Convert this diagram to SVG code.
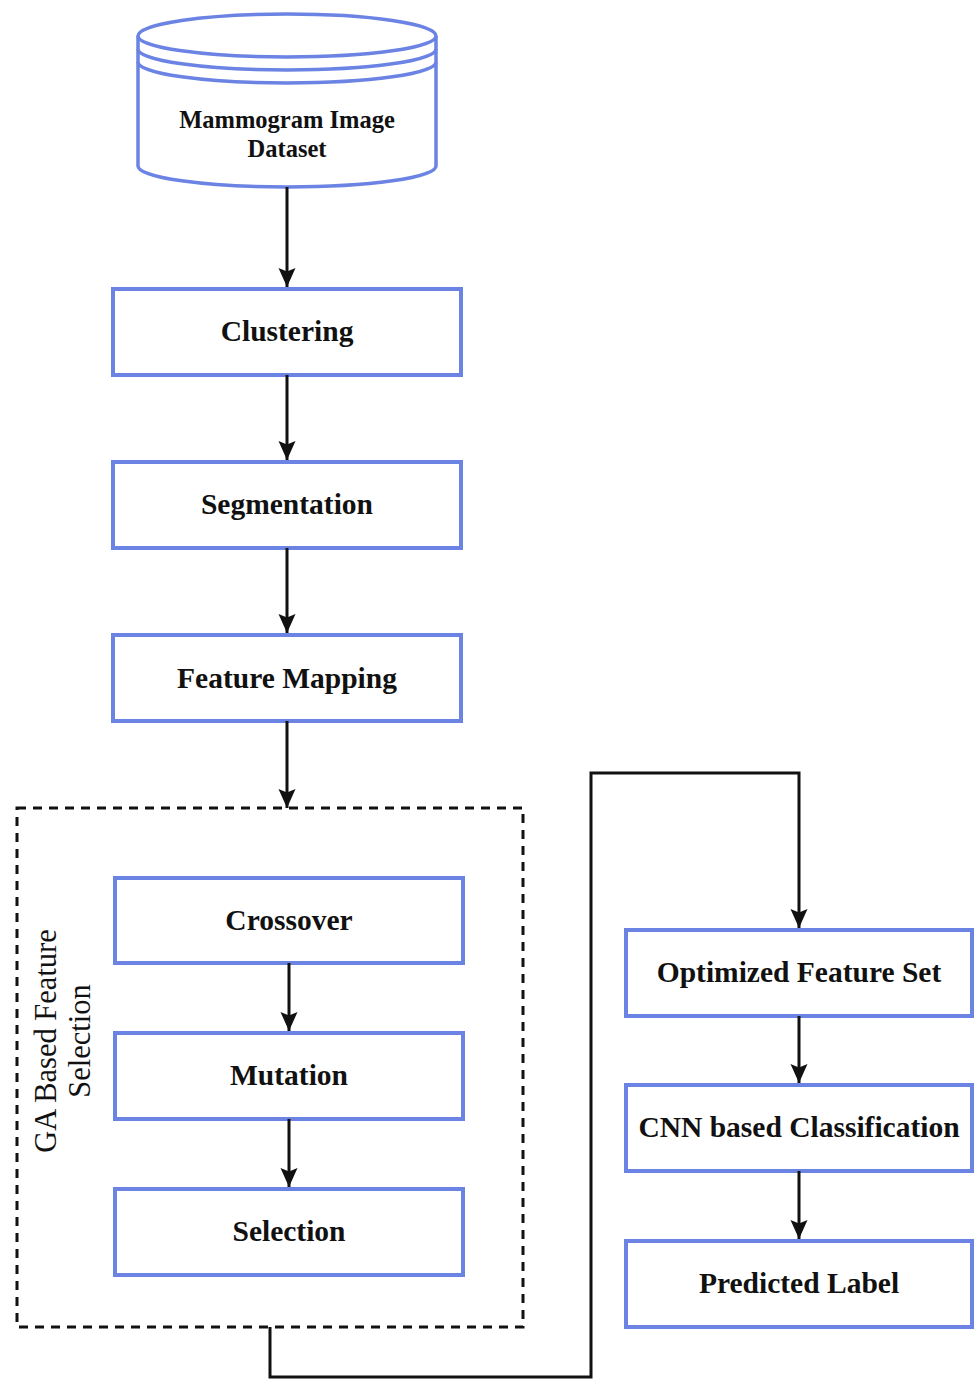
<svg xmlns="http://www.w3.org/2000/svg" width="976" height="1379" viewBox="0 0 976 1379">
<defs>
<style>
.box{fill:#fff;stroke:#6b83e3;stroke-width:4}
.cyl{fill:#fff;stroke:#6b83e3;stroke-width:3.5}
.arc{fill:none;stroke:#6b83e3;stroke-width:3.5}
.lbl{font-family:"Liberation Serif","Times New Roman","DejaVu Serif",serif;font-weight:bold;font-size:29.5px;fill:#111;text-anchor:middle}
.clbl{font-family:"Liberation Serif","Times New Roman","DejaVu Serif",serif;font-weight:bold;font-size:24.5px;fill:#111;text-anchor:middle}
.glbl{font-family:"Liberation Serif","Times New Roman","DejaVu Serif",serif;font-size:30.5px;fill:#111;text-anchor:middle}
.edge{fill:none;stroke:#111;stroke-width:3}
.grp{fill:none;stroke:#111;stroke-width:3;stroke-dasharray:9 7}
</style>
<marker id="arr" markerWidth="20" markerHeight="20" viewBox="0 0 20 20" refX="19" refY="10" orient="auto" markerUnits="userSpaceOnUse">
<path d="M0,1.5 L19,10 L0,18.5 L3.5,10 Z" fill="#111"/>
</marker>
</defs>
<rect width="976" height="1379" fill="#fff"/>

<g id="ga-group">
<rect class="grp" x="17" y="808" width="506" height="519"/>
<text class="glbl" transform="translate(56,1041) rotate(-90)">GA Based Feature</text>
<text class="glbl" transform="translate(90,1041) rotate(-90)">Selection</text>
</g>

<g id="dataset">
<path class="cyl" d="M138,36 L138,166 A149,21 0 0 0 436,166 L436,36 A149,22 0 0 0 138,36 Z"/>
<path class="arc" d="M138,36 A149,21 0 0 0 436,36"/>
<path class="arc" d="M138,49 A149,21 0 0 0 436,49"/>
<path class="arc" d="M138,62 A149,21 0 0 0 436,62"/>
<text class="clbl" x="287" y="128">Mammogram Image</text>
<text class="clbl" x="287" y="157">Dataset</text>
</g>

<g id="clustering">
<rect class="box" x="113" y="289" width="348" height="86"/>
<text class="lbl" x="287" y="341">Clustering</text>
</g>

<g id="segmentation">
<rect class="box" x="113" y="462" width="348" height="86"/>
<text class="lbl" x="287" y="514">Segmentation</text>
</g>

<g id="feature-mapping">
<rect class="box" x="113" y="635" width="348" height="86"/>
<text class="lbl" x="287" y="688">Feature Mapping</text>
</g>

<g id="crossover">
<rect class="box" x="115" y="878" width="348" height="85"/>
<text class="lbl" x="289" y="930">Crossover</text>
</g>

<g id="mutation">
<rect class="box" x="115" y="1033" width="348" height="86"/>
<text class="lbl" x="289" y="1085">Mutation</text>
</g>

<g id="selection">
<rect class="box" x="115" y="1189" width="348" height="86"/>
<text class="lbl" x="289" y="1241">Selection</text>
</g>

<g id="optimized-feature-set">
<rect class="box" x="626" y="930" width="346" height="86"/>
<text class="lbl" x="799" y="982">Optimized Feature Set</text>
</g>

<g id="cnn-classification">
<rect class="box" x="626" y="1085" width="346" height="86"/>
<text class="lbl" x="799" y="1137">CNN based Classification</text>
</g>

<g id="predicted-label">
<rect class="box" x="626" y="1241" width="346" height="86"/>
<text class="lbl" x="799" y="1293">Predicted Label</text>
</g>

<g id="connectors">
<path class="edge" d="M287,187 L287,287" marker-end="url(#arr)"/>
<path class="edge" d="M287,375 L287,460" marker-end="url(#arr)"/>
<path class="edge" d="M287,548 L287,633" marker-end="url(#arr)"/>
<path class="edge" d="M287,721 L287,808" marker-end="url(#arr)"/>
<path class="edge" d="M289,963 L289,1031" marker-end="url(#arr)"/>
<path class="edge" d="M289,1119 L289,1187" marker-end="url(#arr)"/>
<path class="edge" d="M270,1327 L270,1377 L591,1377 L591,773 L799,773 L799,928" marker-end="url(#arr)"/>
<path class="edge" d="M799,1016 L799,1083" marker-end="url(#arr)"/>
<path class="edge" d="M799,1171 L799,1239" marker-end="url(#arr)"/>
</g>
</svg>
